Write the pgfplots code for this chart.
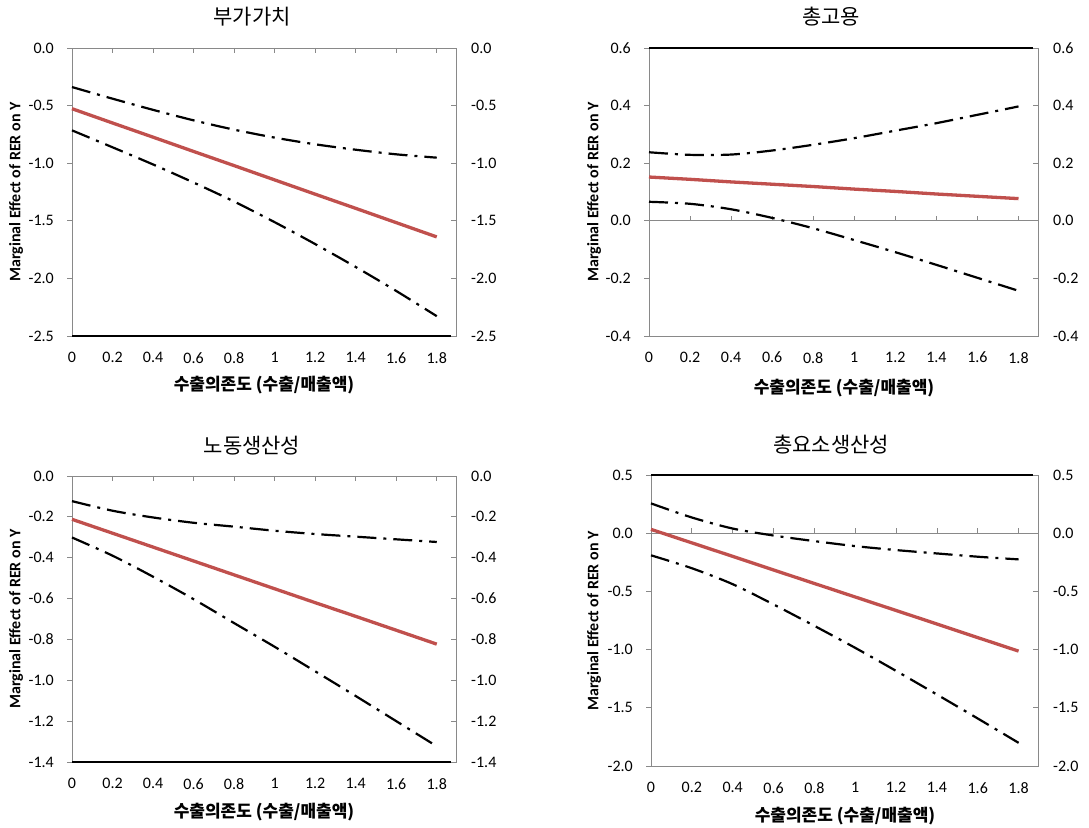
\documentclass[border=0pt]{standalone}
\usepackage{fontspec}
\setmainfont{Carlito}
\newfontfamily\kr{Noto Sans CJK KR}
\usepackage{pgfplots}
\usepackage{pgfplotstable}
\pgfplotsset{compat=1.18}

\definecolor{exred}{HTML}{C0504D}
\definecolor{axgray}{HTML}{898989}

\newcommand\tickfont{\fontsize{16}{19}\selectfont}
\newcommand\titlefont{\kr\fontsize{21}{25}\selectfont}
\newcommand\xlabfont{\kr\bfseries\fontsize{17}{20}\selectfont}
\newcommand\ylabfont{\bfseries\fontsize{16}{19}\selectfont}

% x  mid  up  lo
\pgfplotstableread{
x mid up lo
0 -0.527 -0.339 -0.715
0.2 -0.651 -0.440 -0.862
0.4 -0.774 -0.537 -1.011
0.6 -0.898 -0.628 -1.168
0.8 -1.021 -0.709 -1.333
1.0 -1.145 -0.778 -1.512
1.2 -1.269 -0.836 -1.702
1.4 -1.392 -0.883 -1.901
1.6 -1.516 -0.923 -2.109
1.8 -1.640 -0.952 -2.328
}\va
\pgfplotstableread{
x mid up lo
0 0.152 0.238 0.066
0.2 0.144 0.229 0.059
0.4 0.135 0.230 0.040
0.6 0.127 0.244 0.010
0.8 0.119 0.264 -0.026
1.0 0.110 0.287 -0.067
1.2 0.102 0.313 -0.109
1.4 0.093 0.339 -0.153
1.6 0.085 0.368 -0.198
1.8 0.077 0.397 -0.243
}\emp
\pgfplotstableread{
x mid up lo
0 -0.212 -0.123 -0.301
0.2 -0.280 -0.170 -0.390
0.4 -0.348 -0.203 -0.493
0.6 -0.416 -0.229 -0.603
0.8 -0.484 -0.248 -0.720
1.0 -0.552 -0.268 -0.836
1.2 -0.620 -0.284 -0.956
1.4 -0.687 -0.297 -1.077
1.6 -0.755 -0.310 -1.200
1.8 -0.823 -0.323 -1.323
}\lab
\pgfplotstableread{
x mid up lo
0 0.033 0.256 -0.190
0.2 -0.083 0.135 -0.301
0.4 -0.199 0.040 -0.438
0.6 -0.316 -0.020 -0.612
0.8 -0.432 -0.068 -0.796
1.0 -0.548 -0.111 -0.985
1.2 -0.664 -0.145 -1.183
1.4 -0.780 -0.174 -1.386
1.6 -0.897 -0.202 -1.592
1.8 -1.013 -0.225 -1.801
}\tfp

\pgfplotsset{
  base/.style={scale only axis, xmin=0, xmax=1.895, clip=false,
    axis line style={axgray, line width=0.75pt},
    xtick={0,0.2,0.4,0.6,0.8,1,1.2,1.4,1.6,1.8},
    xticklabels={0,0.2,0.4,0.6,0.8,1,1.2,1.4,1.6,1.8},
    xtick style={draw=none},
    tick label style={font=\tickfont},
    x tick label style={inner sep=0pt, anchor=north, yshift=-11pt},
    ytick pos=left, tick align=outside, major tick length=5pt,
    ytick style={axgray, line width=0.75pt},
    y tick label style={inner sep=0pt, anchor=east, xshift=-13pt},
  },
  twin/.style={scale only axis, xmin=0, xmax=1.895,
    axis x line=none, axis y line*=right,
    y axis line style={axgray, line width=0.75pt},
    tick align=inside, major tick length=5pt,
    ytick style={axgray, line width=0.75pt},
    tick label style={font=\tickfont},
    y tick label style={inner sep=0pt, anchor=west, xshift=15pt},
  },
  mid/.style={exred, line width=3.3pt},
  ci/.style={black, line width=2.2pt, dash pattern=on 19pt off 7pt on 3pt off 7pt, smooth},
}

\begin{document}
\begin{tikzpicture}
\useasboundingbox (0,0) rectangle (1089pt,827pt);

% panel 1
\begin{axis}[base, at={(72pt,491pt)}, width=384pt, height=288pt,
  ymin=-2.5, ymax=0, ytick={-2.5,-2,-1.5,-1,-0.5,0},
  yticklabels={-2.5,-2.0,-1.5,-1.0,-0.5,0.0}]
  \pgfplotsinvokeforeach{0.2,0.4,0.6,0.8,1,1.2,1.4,1.6,1.8}{
    \draw[axgray, line width=0.75pt] (axis cs:#1,0) -- ++(0pt,-5pt);}
  \draw[black, line width=1.5pt] (axis cs:0,-2.5) -- (axis cs:1.872,-2.5);
  \addplot[ci] table[x=x, y=up] {\va};
  \addplot[ci] table[x=x, y=lo] {\va};
  \addplot[mid] table[x=x, y=mid] {\va};
\end{axis}
\begin{axis}[twin, at={(72pt,491pt)}, width=384pt, height=288pt,
  ymin=-2.5, ymax=0, ytick={-2.5,-2,-1.5,-1,-0.5,0},
  yticklabels={-2.5,-2.0,-1.5,-1.0,-0.5,0.0}]
\end{axis}

% panel 2
\begin{axis}[base, at={(649pt,491pt)}, width=389pt, height=288pt,
  ymin=-0.4, ymax=0.6, ytick={-0.4,-0.2,0,0.2,0.4,0.6},
  yticklabels={-0.4,-0.2,0.0,0.2,0.4,0.6}]
  \draw[axgray, line width=0.75pt] (axis cs:0,0) -- (axis cs:1.895,0);
  \pgfplotsinvokeforeach{0.2,0.4,0.6,0.8,1,1.2,1.4,1.6,1.8}{
    \draw[axgray, line width=0.75pt] (axis cs:#1,0) -- ++(0pt,5pt);}
  \draw[black, line width=1.5pt] (axis cs:0,0.6) -- (axis cs:1.872,0.6);
  \addplot[ci] table[x=x, y=up] {\emp};
  \addplot[ci] table[x=x, y=lo] {\emp};
  \addplot[mid] table[x=x, y=mid] {\emp};
\end{axis}
\begin{axis}[twin, at={(649pt,491pt)}, width=389pt, height=288pt,
  ymin=-0.4, ymax=0.6, ytick={-0.4,-0.2,0,0.2,0.4,0.6},
  yticklabels={-0.4,-0.2,0.0,0.2,0.4,0.6}]
\end{axis}

% panel 3
\begin{axis}[base, at={(72pt,65pt)}, width=384pt, height=286pt,
  ymin=-1.4, ymax=0, ytick={-1.4,-1.2,-1,-0.8,-0.6,-0.4,-0.2,0},
  yticklabels={-1.4,-1.2,-1.0,-0.8,-0.6,-0.4,-0.2,0.0}]
  \pgfplotsinvokeforeach{0.2,0.4,0.6,0.8,1,1.2,1.4,1.6,1.8}{
    \draw[axgray, line width=0.75pt] (axis cs:#1,0) -- ++(0pt,-5pt);}
  \draw[black, line width=1.5pt] (axis cs:0,-1.4) -- (axis cs:1.872,-1.4);
  \addplot[ci] table[x=x, y=up] {\lab};
  \addplot[ci] table[x=x, y=lo] {\lab};
  \addplot[mid] table[x=x, y=mid] {\lab};
\end{axis}
\begin{axis}[twin, at={(72pt,65pt)}, width=384pt, height=286pt,
  ymin=-1.4, ymax=0, ytick={-1.4,-1.2,-1,-0.8,-0.6,-0.4,-0.2,0},
  yticklabels={-1.4,-1.2,-1.0,-0.8,-0.6,-0.4,-0.2,0.0}]
\end{axis}

% panel 4
\begin{axis}[base, at={(651pt,61pt)}, width=387pt, height=291pt,
  ymin=-2, ymax=0.5, ytick={-2,-1.5,-1,-0.5,0,0.5},
  yticklabels={-2.0,-1.5,-1.0,-0.5,0.0,0.5}]
  \draw[axgray, line width=0.75pt] (axis cs:0,0) -- (axis cs:1.895,0);
  \pgfplotsinvokeforeach{0.2,0.4,0.6,0.8,1,1.2,1.4,1.6,1.8}{
    \draw[axgray, line width=0.75pt] (axis cs:#1,0) -- ++(0pt,5pt);}
  \draw[black, line width=1.5pt] (axis cs:0,0.5) -- (axis cs:1.872,0.5);
  \addplot[ci] table[x=x, y=up] {\tfp};
  \addplot[ci] table[x=x, y=lo] {\tfp};
  \addplot[mid] table[x=x, y=mid] {\tfp};
\end{axis}
\begin{axis}[twin, at={(651pt,61pt)}, width=387pt, height=291pt,
  ymin=-2, ymax=0.5, ytick={-2,-1.5,-1,-0.5,0,0.5},
  yticklabels={-2.0,-1.5,-1.0,-0.5,0.0,0.5}]
\end{axis}

% titles
\node[font=\titlefont] at (252pt,810pt) {부가가치};
\node[font=\titlefont] at (831pt,810pt) {총고용};
\node[font=\titlefont] at (252pt,381pt) {노동생산성};
\node[font=\titlefont] at (831pt,382pt) {총요소생산성};
% x labels
\node[font=\xlabfont] at (264pt,442pt) {수출의존도 (수출/매출액)};
\node[font=\xlabfont] at (844pt,439pt) {수출의존도 (수출/매출액)};
\node[font=\xlabfont] at (264pt,15pt) {수출의존도 (수출/매출액)};
\node[font=\xlabfont] at (845pt,11pt) {수출의존도 (수출/매출액)};
% y labels
\node[font=\ylabfont, rotate=90] at (16pt,635pt) {Marginal Effect of RER on Y};
\node[font=\ylabfont, rotate=90] at (594pt,635pt) {Marginal Effect of RER on Y};
\node[font=\ylabfont, rotate=90] at (16pt,208pt) {Marginal Effect of RER on Y};
\node[font=\ylabfont, rotate=90] at (594pt,206pt) {Marginal Effect of RER on Y};
\end{tikzpicture}
\end{document}
